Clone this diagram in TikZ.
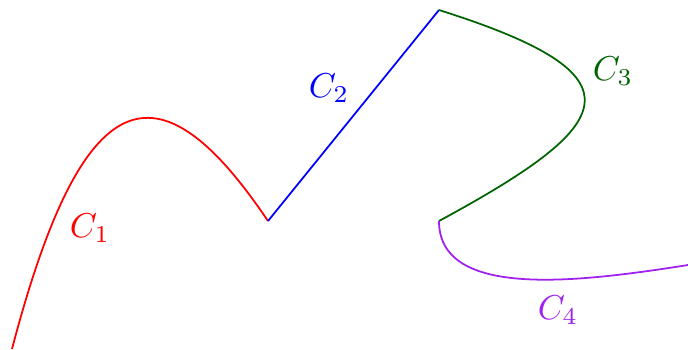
\documentclass[tikz,border=0pt]{standalone}
\definecolor{cthree}{RGB}{0,100,0}
\definecolor{cfour}{RGB}{160,32,240}
\begin{document}
\begin{tikzpicture}[x=0.3125pt,y=-0.3125pt,
  curve/.style={line width=0.55pt},
  lbl/.style={inner sep=0pt,scale=1.08}]
\useasboundingbox (0,0) rectangle (688,349);
\coordinate (a) at (12,349);
\coordinate (b) at (268,221);
\coordinate (c) at (439,10);
\coordinate (d) at (439,221);
\coordinate (e) at (688,265);
\draw[curve,red] (a) .. controls (82,82) and (157,56) .. (b);
\draw[curve,blue] (b) -- (c);
\draw[curve,cthree] (c) .. controls (648,76) and (618,124) .. (d);
\draw[curve,cfour] (d) .. controls (439,300) and (580,282) .. (e);
\node[lbl,red] (l1) at (90,228) {$C_1$};
\node[lbl,blue] (l2) at (329,88) {$C_2$};
\node[lbl,cthree] (l3) at (613,71) {$C_3$};
\node[lbl,cfour] (l4) at (558,310) {$C_4$};
\end{tikzpicture}
\end{document}
